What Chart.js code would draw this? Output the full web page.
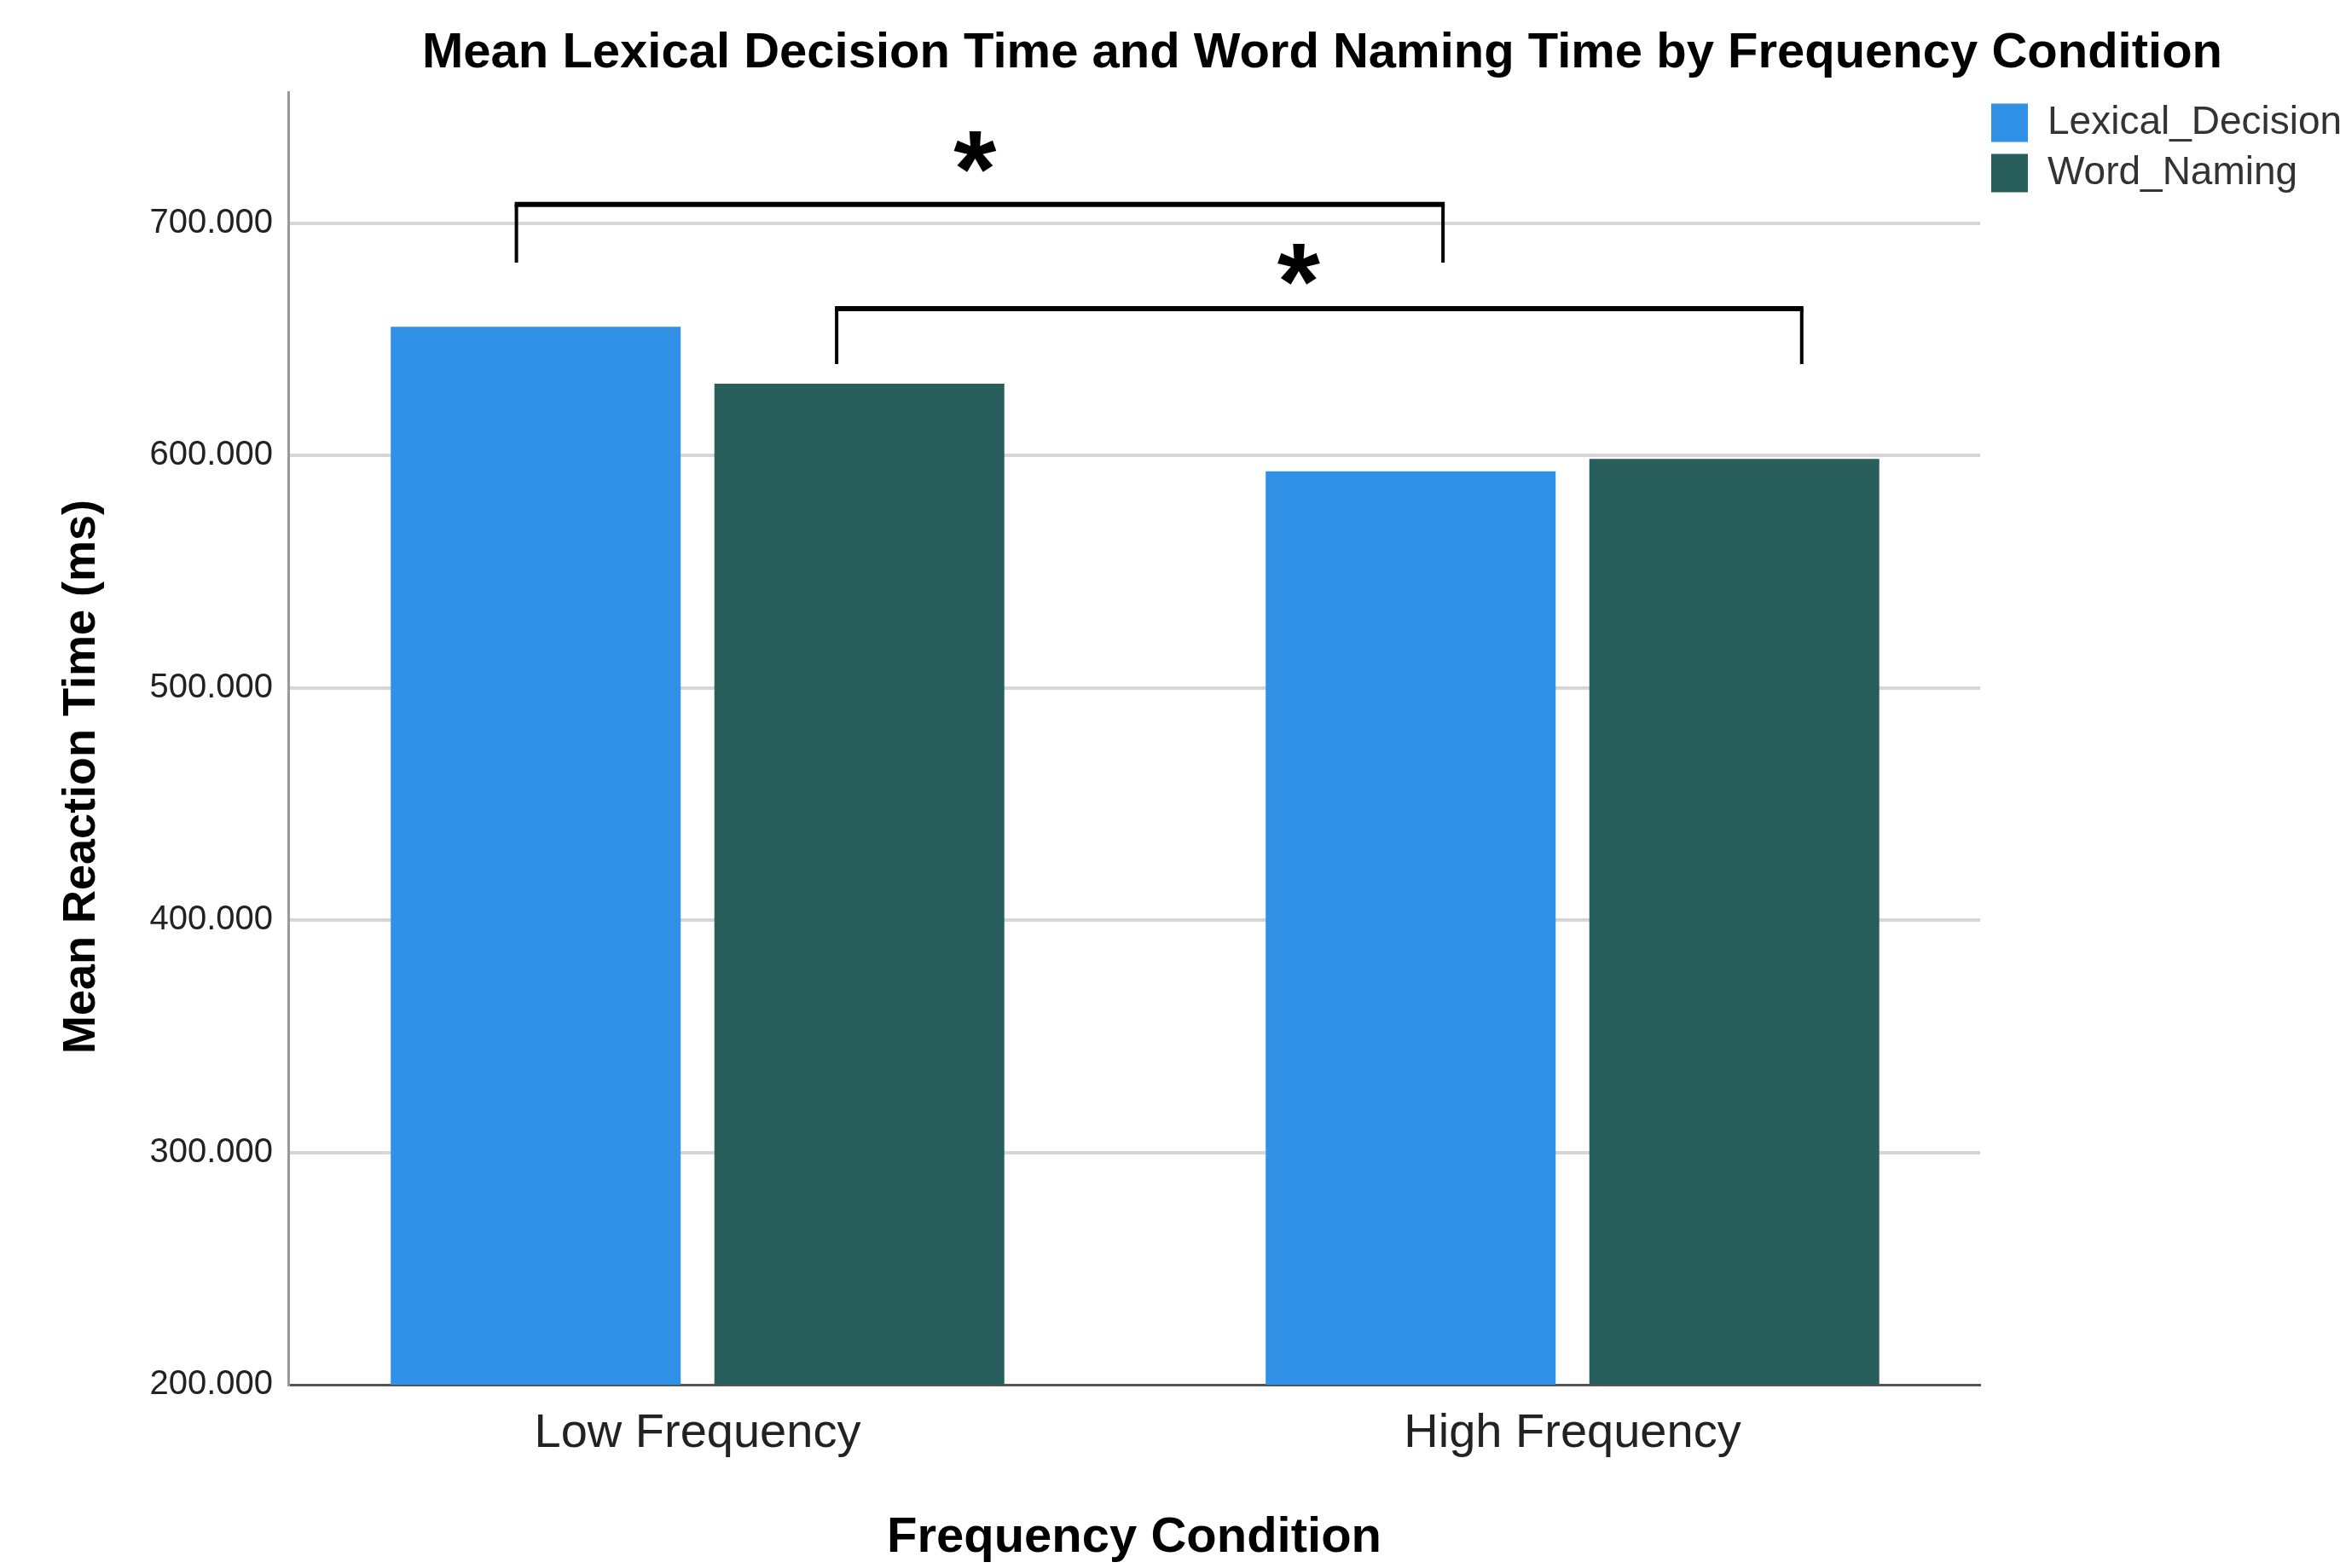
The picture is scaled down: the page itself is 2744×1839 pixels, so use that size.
<!DOCTYPE html>
<html><head><meta charset="utf-8">
<script src="https://cdn.jsdelivr.net/npm/chart.js@4.4.1/dist/chart.umd.min.js"></script>
<style>html,body{margin:0;padding:0;background:#fff;overflow:hidden}</style>
</head><body>
<canvas id="chart" width="2744" height="1839"></canvas>
<script>
// ---- data ----
const chartTitle = 'Mean Lexical Decision Time and Word Naming Time by Frequency Condition';
const categories = ['Low Frequency', 'High Frequency'];
const seriesNames = ['Lexical_Decision', 'Word_Naming'];
const lexicalDecision = [655.4, 593.2];
const wordNaming = [630.9, 598.5];
const yTickValues = [200, 300, 400, 500, 600, 700];
const yAxisTitle = 'Mean Reaction Time (ms)';
const xAxisTitle = 'Frequency Condition';
// significance brackets (in axis units: x = category index, y = ms)
const brackets = [
  {from: -0.207, to: 0.852, top: 708.0, leg: 683.0, label: '*', labelX: 0.317, labelY: 730.7},
  {from: 0.159, to: 1.262, top: 663.2, leg: 639.3, label: '*', labelX: 0.687, labelY: 682.3}
];

const FONT = '"Liberation Sans", Arial, sans-serif';
const colors = ['#3091E6', '#285E5C'];
const TITLE_RIGHT_INSET = 138;
const STAR_GLYPH_HEIGHT = 49;

const titlePlacePlugin = {
  id: 'titlePlace',
  afterLayout(chart) {
    const t = chart.titleBlock;
    if (t) { t.right = chart.width - TITLE_RIGHT_INSET; t.width = t.right - t.left; }
  }
};

const bracketPlugin = {
  id: 'sigBrackets',
  afterDatasetsDraw(chart) {
    const {ctx, scales: {x, y}} = chart;
    ctx.save();
    ctx.strokeStyle = '#000';
    ctx.fillStyle = '#000';
    ctx.lineCap = 'butt';
    ctx.lineJoin = 'round';
    brackets.forEach(b => {
      const x1 = x.getPixelForValue(b.from), x2 = x.getPixelForValue(b.to);
      const yt = y.getPixelForValue(b.top), yl = y.getPixelForValue(b.leg);
      ctx.lineWidth = 4;
      ctx.beginPath();
      ctx.moveTo(x1, yl); ctx.lineTo(x1, yt);
      ctx.moveTo(x2, yt); ctx.lineTo(x2, yl);
      ctx.stroke();
      ctx.lineWidth = 6;
      ctx.beginPath();
      ctx.moveTo(x1 - 2, yt); ctx.lineTo(x2 + 2, yt);
      ctx.stroke();
      ctx.font = 'bold 100px ' + FONT;
      let m = ctx.measureText(b.label);
      const h0 = m.actualBoundingBoxAscent + m.actualBoundingBoxDescent;
      const size = 100 * STAR_GLYPH_HEIGHT / (h0 || 40);
      ctx.font = 'bold ' + size.toFixed(1) + 'px ' + FONT;
      ctx.textAlign = 'center';
      ctx.textBaseline = 'alphabetic';
      m = ctx.measureText(b.label);
      const cx = x.getPixelForValue(b.labelX), cy = y.getPixelForValue(b.labelY);
      const base = cy + (m.actualBoundingBoxAscent - m.actualBoundingBoxDescent) / 2;
      ctx.fillText(b.label, cx, base);
    });
    ctx.restore();
  }
};

const makeData = arr => arr.map((v, i) => ({x: i, y: v}));

new Chart(document.getElementById('chart'), {
  type: 'bar',
  data: {
    datasets: [
      {label: seriesNames[0], data: makeData(lexicalDecision), backgroundColor: colors[0], borderWidth: 0},
      {label: seriesNames[1], data: makeData(wordNaming), backgroundColor: colors[1], borderWidth: 0}
    ]
  },
  options: {
    responsive: false,
    animation: false,
    devicePixelRatio: 1,
    categoryPercentage: 0.7398,
    barPercentage: 0.8959,
    layout: {padding: 0},
    plugins: {
      title: {
        display: true,
        text: chartTitle,
        align: 'end',
        color: '#000',
        font: {family: FONT, size: 58, weight: 'bold', lineHeight: 1.2},
        padding: {top: 28.2, bottom: 10.2}
      },
      legend: {
        display: true,
        position: 'right',
        align: 'start',
        fullSize: false,
        maxWidth: 422,
        labels: {
          boxWidth: 43,
          boxHeight: 45,
          padding: 13,
          color: '#333',
          font: {family: FONT, size: 46}
        }
      },
      tooltip: {enabled: false}
    },
    scales: {
      x: {
        type: 'linear',
        offset: false,
        min: -0.4678,
        max: 1.4659,
        afterBuildTicks: s => { s.ticks = categories.map((c, i) => ({value: i})); },
        afterFit: s => { s.height = 215; },
        grid: {display: false, drawTicks: false, offset: false},
        border: {display: true, color: '#555', width: 3},
        ticks: {
          padding: 24,
          color: '#222',
          font: {family: FONT, size: 56},
          maxRotation: 0,
          callback: v => categories[Math.round(v)]
        },
        title: {
          display: true,
          text: xAxisTitle,
          color: '#000',
          font: {family: FONT, size: 58, weight: 'bold', lineHeight: 1.2},
          padding: {top: 0, bottom: 0}
        }
      },
      y: {
        type: 'linear',
        min: 200,
        max: 756.4,
        afterBuildTicks: s => { s.ticks = yTickValues.map(v => ({value: v})); },
        afterFit: s => { s.width = 338; },
        grid: {
          drawTicks: false,
          lineWidth: 4,
          color: c => (c.tick && c.tick.value === 200) ? 'rgba(0,0,0,0)' : '#d6d6d6'
        },
        border: {display: true, color: '#999', width: 3},
        ticks: {
          padding: 18,
          color: '#222',
          font: {family: FONT, size: 40},
          callback: v => Number(v).toFixed(3)
        },
        title: {
          display: true,
          text: yAxisTitle + '      ',
          color: '#000',
          font: {family: FONT, size: 54, weight: 'bold', lineHeight: 1.2},
          padding: {top: 63.6, bottom: 0}
        }
      }
    }
  },
  plugins: [titlePlacePlugin, bracketPlugin]
});
</script>
</body></html>
